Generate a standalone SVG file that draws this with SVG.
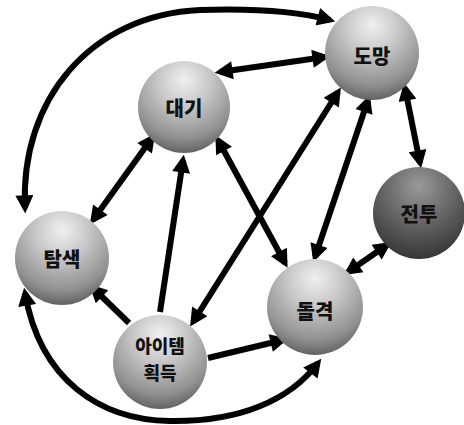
<svg xmlns="http://www.w3.org/2000/svg" width="464" height="425" viewBox="0 0 464 425">
  <style>
    .edge { fill: none; stroke: #000; stroke-width: 6; }
    .lbl { font-family: "Noto Sans CJK KR", "Noto Sans", sans-serif; font-weight: 900; font-size: 20px; fill: #111; text-anchor: middle; dominant-baseline: central; }
    .small { font-size: 18px; }
  </style>
  <defs>
    <radialGradient id="ball" cx="50%" cy="25%" r="80%" fx="50%" fy="20%">
      <stop offset="0" stop-color="#f0f0f0"/>
      <stop offset="0.35" stop-color="#c8c8c8"/>
      <stop offset="0.75" stop-color="#919191"/>
      <stop offset="1" stop-color="#555"/>
    </radialGradient>
    <radialGradient id="ballDark" cx="50%" cy="25%" r="80%" fx="50%" fy="20%">
      <stop offset="0" stop-color="#9a9a9a"/>
      <stop offset="0.4" stop-color="#6e6e6e"/>
      <stop offset="1" stop-color="#303030"/>
    </radialGradient>
    <marker id="head" viewBox="0 0 10 10" refX="7" refY="5" markerWidth="20" markerHeight="18" markerUnits="userSpaceOnUse" orient="auto-start-reverse">
      <path d="M0,0 L10,5 L0,10 z" fill="#000"/>
    </marker>
  </defs>

  <g id="connectors">
    <!-- outer arc: 도망 <-> 탐색 -->
    <path class="edge" d="M25,208 C20,100 90,15 200,10 C260,8 300,12 330,20" marker-start="url(#head)" marker-end="url(#head)"/>
    <!-- outer arc: 탐색 <-> 돌격 -->
    <path class="edge" d="M25,293 C40,380 100,420 170,421 C240,422 290,400 318,363" marker-start="url(#head)" marker-end="url(#head)"/>
    <line class="edge" x1="220" y1="72" x2="325" y2="57" marker-start="url(#head)" marker-end="url(#head)"/>
    <line class="edge" x1="152" y1="138" x2="93" y2="220" marker-start="url(#head)" marker-end="url(#head)"/>
    <line class="edge" x1="160" y1="312" x2="183" y2="160" marker-end="url(#head)"/>
    <line class="edge" x1="218" y1="140" x2="285" y2="263" marker-start="url(#head)" marker-end="url(#head)"/>
    <line class="edge" x1="338" y1="92" x2="193" y2="322" marker-start="url(#head)" marker-end="url(#head)"/>
    <line class="edge" x1="368" y1="100" x2="315" y2="257" marker-start="url(#head)" marker-end="url(#head)"/>
    <line class="edge" x1="405" y1="88" x2="420" y2="163" marker-start="url(#head)" marker-end="url(#head)"/>
    <line class="edge" x1="387" y1="245" x2="348" y2="272" marker-start="url(#head)" marker-end="url(#head)"/>
    <line class="edge" x1="129" y1="323" x2="93" y2="288" marker-end="url(#head)"/>
    <line class="edge" x1="208" y1="358" x2="283" y2="340" marker-end="url(#head)"/>
  </g>

  <g id="node-flee">
    <circle cx="372" cy="53" r="47" fill="url(#ball)"/>
    <text class="lbl" x="372" y="55">도망</text>
  </g>
  <g id="node-wait">
    <circle cx="184" cy="107" r="46" fill="url(#ball)"/>
    <text class="lbl" x="184" y="107">대기</text>
  </g>
  <g id="node-fight">
    <circle cx="419" cy="213" r="46" fill="url(#ballDark)"/>
    <text class="lbl" x="419" y="213">전투</text>
  </g>
  <g id="node-search">
    <circle cx="62" cy="258" r="47" fill="url(#ball)"/>
    <text class="lbl" x="62" y="258">탐색</text>
  </g>
  <g id="node-charge">
    <circle cx="315" cy="307" r="48" fill="url(#ball)"/>
    <text class="lbl" x="315" y="310">돌격</text>
  </g>
  <g id="node-item">
    <circle cx="160" cy="362" r="47" fill="url(#ball)"/>
    <text class="lbl small" x="160" y="345">아이템</text>
    <text class="lbl small" x="160" y="372">획득</text>
  </g>
</svg>
